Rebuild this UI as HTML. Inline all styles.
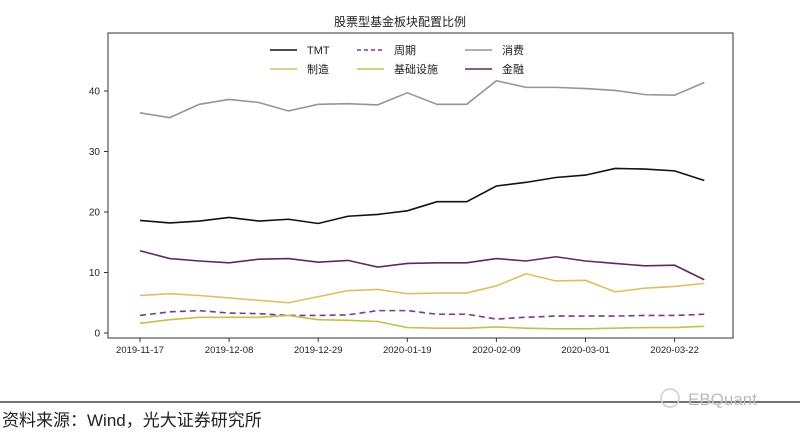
<!DOCTYPE html>
<html><head><meta charset="utf-8"><style>
body{margin:0;background:#fff;width:800px;height:437px;overflow:hidden;font-family:"Liberation Sans","Noto Sans CJK SC",sans-serif}
</style></head><body>
<svg id="chart" width="800" height="437" viewBox="0 0 800 437" xmlns="http://www.w3.org/2000/svg" font-family="Liberation Sans, Noto Sans CJK SC, sans-serif">
<text x="400" y="26" text-anchor="middle" font-size="12" fill="#222">股票型基金板块配置比例</text>
<rect x="108" y="33" width="625" height="305" fill="none" stroke="#333" stroke-width="1"/>
<g id="axes"></g>
<g id="series"></g>
<g id="legend"></g>
<line x1="0" y1="402" x2="800" y2="402" stroke="#222" stroke-width="1.2"/>
<text x="688" y="405" font-size="17" fill="#bbb">EBQuant</text>
<circle cx="670" cy="398" r="9" fill="none" stroke="#ccc" stroke-width="1.5"/>
<text x="2" y="426" font-size="17" fill="#222">资料来源：Wind，光大证券研究所</text>
</svg>
<script>
const dates=["2019-11-17","2019-11-24","2019-12-01","2019-12-08","2019-12-15","2019-12-22","2019-12-29","2020-01-05","2020-01-12","2020-01-19","2020-01-26","2020-02-02","2020-02-09","2020-02-16","2020-02-23","2020-03-01","2020-03-08","2020-03-15","2020-03-22","2020-03-29"];
const tickLabels=["2019-11-17","2019-12-08","2019-12-29","2020-01-19","2020-02-09","2020-03-01","2020-03-22"];
const yTicks=[0,10,20,30,40];
const tmt=[18.6,18.2,18.5,19.1,18.5,18.8,18.1,19.3,19.6,20.2,21.7,21.7,24.3,24.9,25.7,26.1,27.2,27.1,26.8,25.2];
const cycle=[2.9,3.5,3.7,3.3,3.2,2.9,2.9,3.0,3.7,3.7,3.1,3.1,2.3,2.6,2.8,2.8,2.8,2.9,2.9,3.1];
const consumer=[36.4,35.6,37.8,38.6,38.1,36.7,37.8,37.9,37.7,39.7,37.8,37.8,41.7,40.6,40.6,40.4,40.1,39.4,39.3,41.4];
const manufacturing=[6.2,6.5,6.2,5.8,5.4,5.0,6.0,7.0,7.2,6.5,6.6,6.6,7.8,9.8,8.6,8.7,6.8,7.4,7.7,8.2];
const infrastructure=[1.6,2.2,2.6,2.6,2.6,2.9,2.2,2.1,1.9,0.9,0.8,0.8,1.0,0.8,0.7,0.7,0.8,0.9,0.9,1.1];
const finance=[13.6,12.3,11.9,11.6,12.2,12.3,11.7,12.0,10.9,11.5,11.6,11.6,12.3,11.9,12.6,11.9,11.5,11.1,11.2,8.8];

const NS="http://www.w3.org/2000/svg";
const x0=140,dx=29.7,y0=333,ky=6.05;
function xs(i){return x0+dx*i;}
function ys(v){return y0-v*ky;}
function mk(tag,attrs,parent){const e=document.createElementNS(NS,tag);for(const k in attrs)e.setAttribute(k,attrs[k]);parent.appendChild(e);return e;}
const axes=document.getElementById('axes');
yTicks.forEach(v=>{
  const l=mk('line',{x1:104,x2:108,y1:ys(v),y2:ys(v),stroke:'#333'},axes);
  
  
  const t=mk('text',{x:100,y:ys(v)+3.5,'text-anchor':'end','font-size':10,fill:'#222'},axes);
  
  
  t.textContent=v;
});
tickLabels.forEach(d=>{
  const i=dates.indexOf(d);
  const l=mk('line',{x1:xs(i),x2:xs(i),y1:338,y2:342,stroke:'#333'},axes);
  
  
  const t=mk('text',{x:xs(i),y:353,'text-anchor':'middle','font-size':9.5,fill:'#222'},axes);
  
  
  t.textContent=d;
});
const defs=[
 ['TMT',tmt,'#111',null,'tmt-line'],
 ['周期',cycle,'#7a3a8a','6,4','cycle-line'],
 ['消费',consumer,'#959595',null,'consumer-line'],
 ['制造',manufacturing,'#dcc060',null,'manufacturing-line'],
 ['基础设施',infrastructure,'#c2c24a',null,'infrastructure-line'],
 ['金融',finance,'#5e2a5e',null,'finance-line']
];
const sg=document.getElementById('series'),lg=document.getElementById('legend');
defs.forEach((d,k)=>{
  const pts=d[1].map((v,i)=>xs(i)+','+ys(v)).join(' ');
  const a={points:pts,fill:'none',stroke:d[2],'stroke-width':1.6};
  if(d[3])a['stroke-dasharray']=d[3];
  const p=mk('polyline',a,sg);
  
  
  const col=k%3,row=Math.floor(k/3);
  const lx=[270,357,465][col],ly=50+row*19;
  const la={x1:lx,x2:lx+27,y1:ly,y2:ly,stroke:d[2],'stroke-width':1.6};
  if(d[3])la['stroke-dasharray']='4,3';
  const ll=mk('line',la,lg);
  
  
  const t=mk('text',{x:lx+37,y:ly+4,'font-size':11,fill:'#222'},lg);
  
  
  t.textContent=d[0];
});
</script>
</body></html>
